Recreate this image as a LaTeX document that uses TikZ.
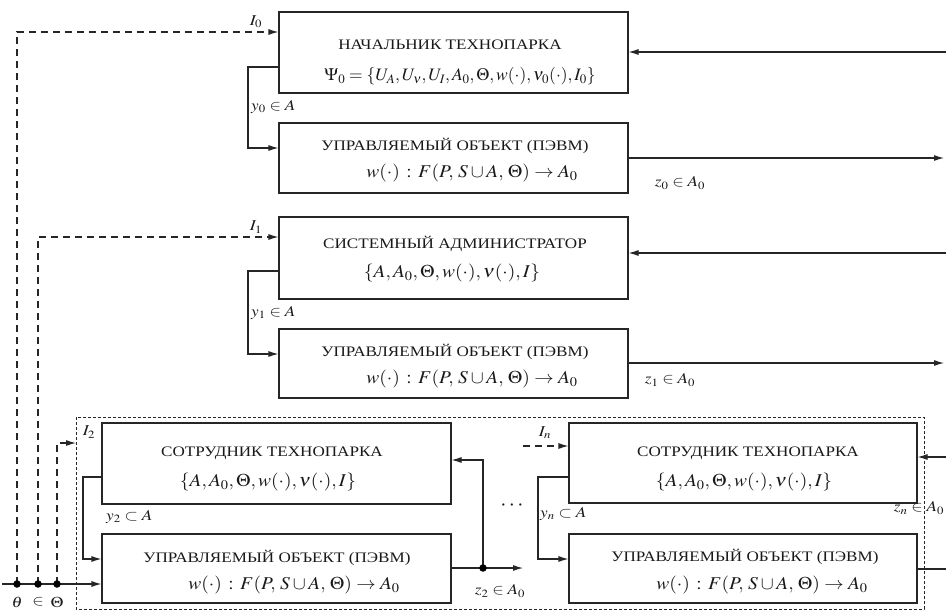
\documentclass[tikz,border=0pt]{standalone}
\usepackage{mathptmx}
\usepackage[no-math]{fontspec}
\setmainfont{Liberation Serif}
\usetikzlibrary{arrows.meta}
\newcommand{\ttl}[1]{\scalebox{1.18}[1]{\fontsize{14.5}{16}\selectfont #1}}
\newcommand{\mth}[1]{\scalebox{1.08}[1]{\fontsize{18}{20}\selectfont $#1$}}
\newcommand{\mps}[1]{{\fontsize{17.5}{20}\selectfont $#1$}}
\newcommand{\lbm}[1]{\scalebox{1.15}[1]{\fontsize{15}{17}\selectfont $#1$}}
\begin{document}
\begin{tikzpicture}[x=1pt,y=-1pt,
  blk/.style={draw=black!85, line width=1.1pt, inner sep=0pt, rectangle},
  txt/.style={inner sep=0pt, text=black!90},
  ln/.style={draw=black!85, line width=1.1pt},
  arr/.style={ln, -{Latex[length=10pt,width=6pt]}},
  dsh/.style={ln, dash pattern=on 7pt off 5pt},
  darr/.style={dsh, -{Latex[length=10pt,width=6pt]}},
  dbox/.style={draw=black!85, line width=0.8pt, dash pattern=on 3pt off 2pt},
  dot/.style={circle, fill=black, inner sep=0pt, minimum size=7.5pt}]
\useasboundingbox (0,0) rectangle (946,611);
\fill[white] (0,0) rectangle (946,611);

% boxes
\node[blk, minimum width=349pt, minimum height=81pt] (b1) at (453.5,52.5) {};
\node[blk, minimum width=349pt, minimum height=70pt] (b2) at (453.5,158) {};
\node[blk, minimum width=349pt, minimum height=82pt] (b3) at (453.5,258) {};
\node[blk, minimum width=349pt, minimum height=69pt] (b4) at (453.5,363.5) {};
\node[blk, minimum width=349pt, minimum height=81pt] (b5) at (276.5,463.5) {};
\node[blk, minimum width=349pt, minimum height=69pt] (b6) at (276.5,568.5) {};
\node[blk, minimum width=348pt, minimum height=80pt] (b7) at (743,463) {};
\node[blk, minimum width=348pt, minimum height=69pt] (b8) at (743,568.5) {};

% dashed frame
\draw[dbox] (76,417) rectangle (924,609);

% box texts
\node[txt] (t1a) at (450,45) {\ttl{НАЧАЛЬНИК ТЕХНОПАРКА}};
\node[txt] (t1b) at (460,76) {\mps{\Psi_0=\{U_A,U_\nu,U_I,A_0,\Theta,w(\cdot),\nu_0(\cdot),I_0\}}};
\node[txt] (t2a) at (455,146) {\ttl{УПРАВЛЯЕМЫЙ ОБЪЕКТ (ПЭВМ)}};
\node[txt] (t2b) at (472,173) {\mth{w(\cdot)\,:\,F(P,\,S\cup A,\,\Theta)\to A_0}};
\node[txt] (t3a) at (455,244) {\ttl{СИСТЕМНЫЙ АДМИНИСТРАТОР}};
\node[txt] (t3b) at (452,273) {\mth{\{A,A_0,\Theta,w(\cdot),\nu(\cdot),I\}}};
\node[txt] (t4a) at (455,352) {\ttl{УПРАВЛЯЕМЫЙ ОБЪЕКТ (ПЭВМ)}};
\node[txt] (t4b) at (472,379) {\mth{w(\cdot)\,:\,F(P,\,S\cup A,\,\Theta)\to A_0}};
\node[txt] (t5a) at (272,453) {\ttl{СОТРУДНИК ТЕХНОПАРКА}};
\node[txt] (t5b) at (268,482) {\mth{\{A,A_0,\Theta,w(\cdot),\nu(\cdot),I\}}};
\node[txt] (t6a) at (277,558) {\ttl{УПРАВЛЯЕМЫЙ ОБЪЕКТ (ПЭВМ)}};
\node[txt] (t6b) at (294,585) {\mth{w(\cdot)\,:\,F(P,\,S\cup A,\,\Theta)\to A_0}};
\node[txt] (t7a) at (748,453) {\ttl{СОТРУДНИК ТЕХНОПАРКА}};
\node[txt] (t7b) at (744,482) {\mth{\{A,A_0,\Theta,w(\cdot),\nu(\cdot),I\}}};
\node[txt] (t8a) at (745,557) {\ttl{УПРАВЛЯЕМЫЙ ОБЪЕКТ (ПЭВМ)}};
\node[txt] (t8b) at (762,585) {\mth{w(\cdot)\,:\,F(P,\,S\cup A,\,\Theta)\to A_0}};

% left input coordinates
\coordinate (p0) at (17,584);
\coordinate (p1) at (38,584);
\coordinate (p2) at (57,584);
\coordinate (in0) at (2,584);
\coordinate (c0) at (17,32);
\coordinate (c1) at (38,237);
\coordinate (c2) at (57,443);
\coordinate (c2e) at (76,443);

\draw[darr] (p0) -- (c0) -- (b1.west |- c0);
\draw[darr] (p1) -- (c1) -- (b3.west |- c1);
\draw[darr] (p2) -- (c2) -- (c2e);
\draw[arr] (in0) -- (b6.west |- in0);
\node[dot] (d0) at (p0) {};
\node[dot] (d1) at (p1) {};
\node[dot] (d2) at (p2) {};
\node[txt] (lth) at (17,602) {\lbm{\theta}};
\node[txt] (lin) at (38,602) {\lbm{\in}};
\node[txt] (lTh) at (57,602) {\lbm{\Theta}};

\node[txt] (lI0) at (256,22) {\lbm{I_0}};
\node[txt] (lI1) at (256,227) {\lbm{I_1}};
\node[txt] (lI2) at (89,432) {\lbm{I_2}};
\node[txt] (lIn) at (545,433) {\lbm{I_n}};

% feedback loops
\coordinate (f0a) at (248,67);
\coordinate (f0b) at (248,148);
\draw[arr] (b1.west |- f0a) -- (f0a) -- (f0b) -- (b2.west |- f0b);
\node[txt, anchor=west] (ly0) at (251,107) {\lbm{y_0\in A}};

\coordinate (f1a) at (248,271);
\coordinate (f1b) at (248,354);
\draw[arr] (b3.west |- f1a) -- (f1a) -- (f1b) -- (b4.west |- f1b);
\node[txt, anchor=west] (ly1) at (251,313) {\lbm{y_1\in A}};

\coordinate (f2a) at (83,477);
\coordinate (f2b) at (83,559);
\draw[arr] (b5.west |- f2a) -- (f2a) -- (f2b) -- (b6.west |- f2b);
\node[txt, anchor=west] (ly2) at (106,517) {\lbm{y_2\subset A}};

\coordinate (fna) at (538,477);
\coordinate (fnb) at (538,559);
\draw[arr] (b7.west |- fna) -- (fna) -- (fnb) -- (b8.west |- fnb);
\node[txt, anchor=west] (lyn) at (540,514) {\lbm{y_n\subset A}};

% right side
\coordinate (r0) at (946,52);
\coordinate (r1) at (944,158);
\coordinate (r2) at (946,253);
\coordinate (r3) at (944,363);
\coordinate (r4) at (946,457);
\coordinate (r5) at (946,569);
\draw[arr] (r0) -- (b1.east |- r0);
\draw[arr] (b2.east |- r1) -- (r1);
\draw[arr] (r2) -- (b3.east |- r2);
\draw[arr] (b4.east |- r3) -- (r3);
\draw[arr] (r4) -- (b7.east |- r4);
\draw[ln] (b8.east |- r5) -- (r5);
\node[txt] (lz0) at (680,183) {\lbm{z_0\in A_0}};
\node[txt] (lz1) at (670,380) {\lbm{z_1\in A_0}};
\node[txt] (lzn) at (919,508) {\lbm{z_n\in A_0}};

% z2 branch
\coordinate (z2) at (483,568);
\coordinate (z2e) at (523,568);
\coordinate (z2u) at (483,460);
\draw[ln] (b6.east |- z2) -- (z2);
\draw[arr] (z2) -- (z2e);
\draw[arr] (z2) -- (z2u) -- (b5.east |- z2u);
\node[dot] (dz2) at (z2) {};
\node[txt] (lz2) at (500,591) {\lbm{z_2\in A_0}};
\node[txt] (ldots) at (512,506) {\fontsize{22}{24}\selectfont $\cdots$};
\coordinate (ins) at (523,446);
\draw[darr] (ins) -- (b7.west |- ins);
\end{tikzpicture}
\end{document}
